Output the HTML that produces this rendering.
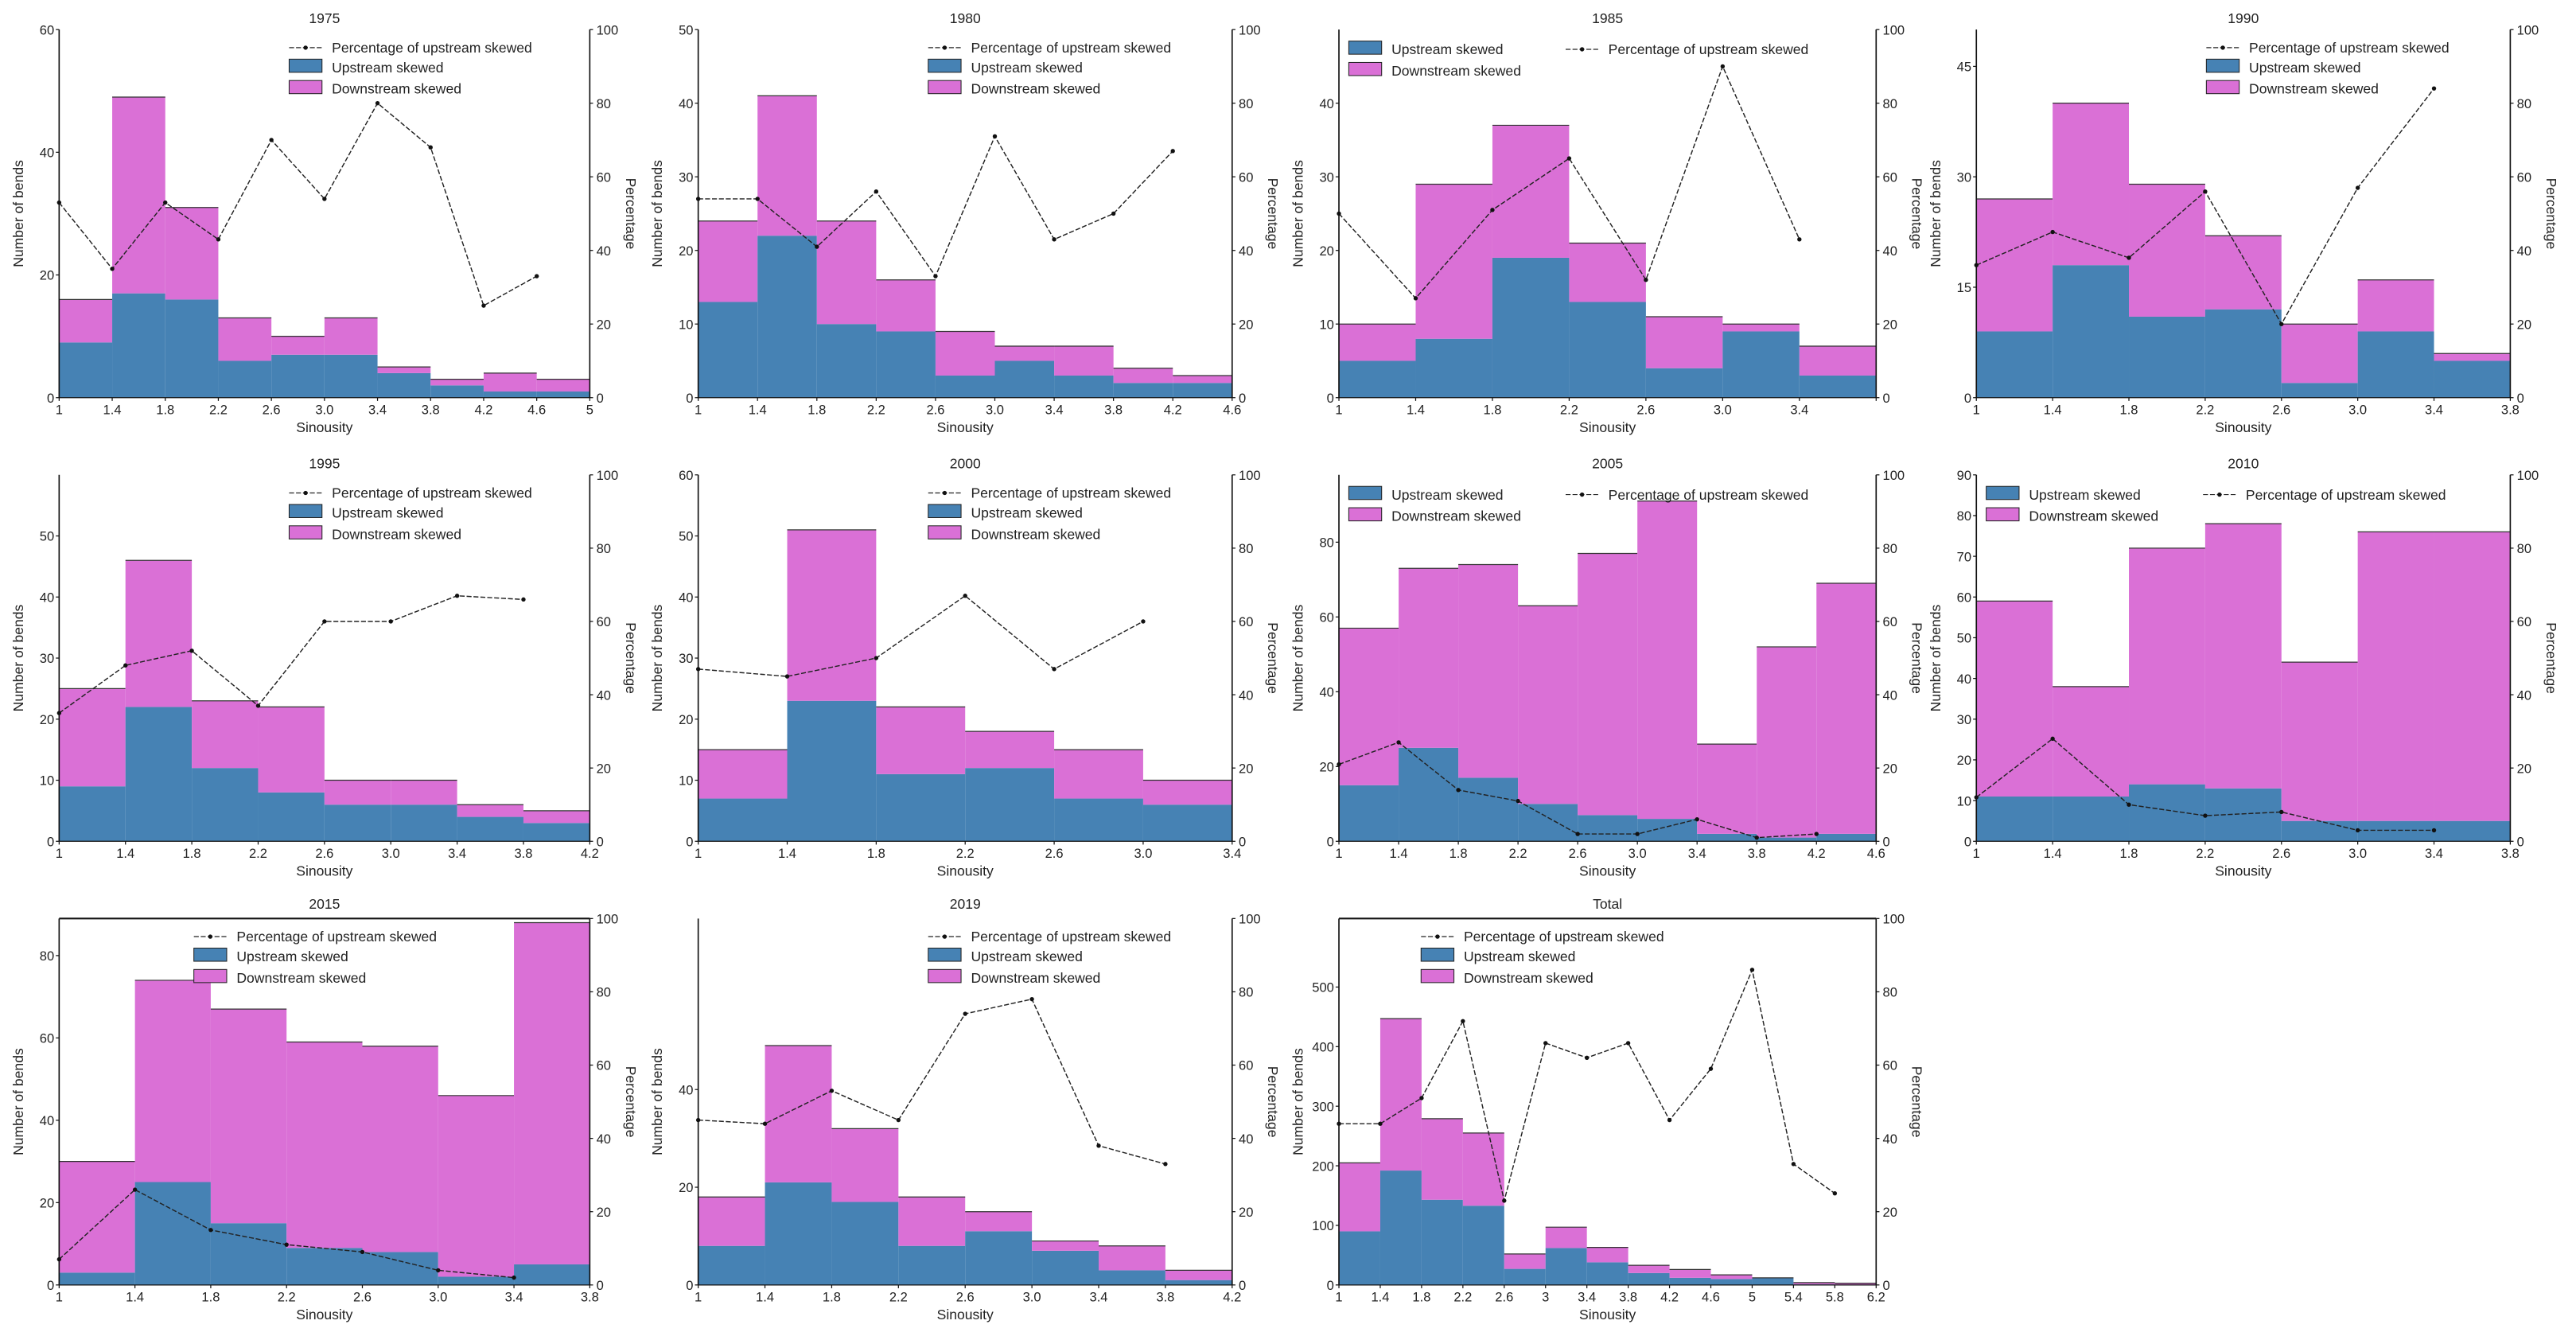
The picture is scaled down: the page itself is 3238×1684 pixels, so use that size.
<!DOCTYPE html>
<html><head><meta charset="utf-8"><style>
html,body{margin:0;padding:0;background:#fff;}
svg{display:block;font-family:"Liberation Sans","DejaVu Sans",sans-serif;}
</style></head><body>
<svg id="fig" width="3238" height="1684" viewBox="0 0 1568 815.5" preserveAspectRatio="none" xmlns="http://www.w3.org/2000/svg"></svg>
<script>
// ---- data (counts per bin, percentage of upstream skewed) ----
const titles = ["1975","1980","1985","1990","1995","2000","2005","2010","2015","2019","Total"];
const up1975=[9,17,16,6,7,7,4,2,1,1];
const tot1975=[16,49,31,13,10,13,5,3,4,3];
const pct1975=[53,35,53,43,70,54,80,68,25,33];
const up1980=[13,22,10,9,3,5,3,2,2];
const tot1980=[24,41,24,16,9,7,7,4,3];
const pct1980=[54,54,41,56,33,71,43,50,67];
const up1985=[5,8,19,13,4,9,3];
const tot1985=[10,29,37,21,11,10,7];
const pct1985=[50,27,51,65,32,90,43];
const up1990=[9,18,11,12,2,9,5];
const tot1990=[27,40,29,22,10,16,6];
const pct1990=[36,45,38,56,20,57,84];
const up1995=[9,22,12,8,6,6,4,3];
const tot1995=[25,46,23,22,10,10,6,5];
const pct1995=[35,48,52,37,60,60,67,66];
const up2000=[7,23,11,12,7,6];
const tot2000=[15,51,22,18,15,10];
const pct2000=[47,45,50,67,47,60];
const up2005=[15,25,17,10,7,6,2,1,2];
const tot2005=[57,73,74,63,77,91,26,52,69];
const pct2005=[21,27,14,11,2,2,6,1,2];
const up2010=[11,11,14,13,5,5,5];
const tot2010=[59,38,72,78,44,76,76];
const pct2010=[12,28,10,7,8,3,3];
const up2015=[3,25,15,9,8,2,5];
const tot2015=[30,74,67,59,58,46,88];
const pct2015=[7,26,15,11,9,4,2];
const up2019=[8,21,17,8,11,7,3,1];
const tot2019=[18,49,32,18,15,9,8,3];
const pct2019=[45,44,53,45,74,78,38,33];
const upTotal=[90,192,143,133,27,62,38,20,12,10,12,1,0];
const totTotal=[205,447,279,255,52,97,63,33,26,17,12,4,3];
const pctTotal=[44,44,51,72,23,66,62,66,45,59,86,33,25];
const yMaxes=[60,50,50,50,60,60,98,90,89,75,615];
const yTicks1=[0,20,40,60], yTicks2=[0,10,20,30,40,50], yTicks3=[0,10,20,30,40], yTicks4=[0,15,30,45];
const yTicks5=[0,10,20,30,40,50], yTicks6=[0,10,20,30,40,50,60], yTicks7=[0,20,40,60,80];
const yTicks8=[0,10,20,30,40,50,60,70,80,90], yTicks9=[0,20,40,60,80], yTicks10=[0,20,40], yTicks11=[0,100,200,300,400,500];
const pctTicks=[0,20,40,60,80,100];
const xTicks1=["1","1.4","1.8","2.2","2.6","3.0","3.4","3.8","4.2","4.6","5"];
const xTicks2=["1","1.4","1.8","2.2","2.6","3.0","3.4","3.8","4.2","4.6"];
const xTicks3=["1","1.4","1.8","2.2","2.6","3.0","3.4",""];
const xTicks4=["1","1.4","1.8","2.2","2.6","3.0","3.4","3.8"];
const xTicks5=["1","1.4","1.8","2.2","2.6","3.0","3.4","3.8","4.2"];
const xTicks6=["1","1.4","1.8","2.2","2.6","3.0","3.4"];
const xTicks11=["1","1.4","1.8","2.2","2.6","3","3.4","3.8","4.2","4.6","5","5.4","5.8","6.2"];

const ups=[up1975,up1980,up1985,up1990,up1995,up2000,up2005,up2010,up2015,up2019,upTotal];
const tots=[tot1975,tot1980,tot1985,tot1990,tot1995,tot2000,tot2005,tot2010,tot2015,tot2019,totTotal];
const pcts=[pct1975,pct1980,pct1985,pct1990,pct1995,pct2000,pct2005,pct2010,pct2015,pct2019,pctTotal];
const yts=[yTicks1,yTicks2,yTicks3,yTicks4,yTicks5,yTicks6,yTicks7,yTicks8,yTicks9,yTicks10,yTicks11];
const xts=[xTicks1,xTicks2,xTicks3,xTicks4,xTicks5,xTicks6,xTicks2,xTicks4,xTicks4,xTicks5,xTicks11];

// layout (display units)
const cols=[[36,359],[425,750],[815,1142],[1203,1528]];
const rows=[[18,242],[289,512],[559,782]];
const legendMode=["r","r","two","r","r","r","two","two","c","r","c2"];
const boxed=[false,false,false,false,false,false,false,false,true,false,true];

const NS="http://www.w3.org/2000/svg";
const svg=document.getElementById('fig');
function mk(tag,attrs,parent){const e=document.createElementNS(NS,tag);for(const k in attrs)e.setAttribute(k,attrs[k]);(parent||svg).appendChild(e);return e;}
function txt(s,attrs,parent){const e=mk('text',attrs,parent);e.textContent=s;return e;}

const UP="#4682b4", DOWN="#da70d6";

for(let p=0;p<11;p++){
  const [L,R]=cols[p%4]; const [T,B]=rows[Math.floor(p/4)];
  const g=mk('g',{});
  
  
  const up=ups[p], tot=tots[p], pct=pcts[p], nb=up.length, ymax=yMaxes[p];
  const xs=i=>L+(R-L)*i/nb;
  const ys=v=>B-(B-T)*v/ymax;
  const yp=v=>B-(B-T)*v/100;
  for(let i=0;i<nb;i++){
    const r1=mk('rect',{x:xs(i),y:ys(up[i]),width:xs(i+1)-xs(i),height:B-ys(up[i]),fill:UP},g);
    
    
    const r2=mk('rect',{x:xs(i),y:ys(tot[i]),width:xs(i+1)-xs(i),height:ys(up[i])-ys(tot[i]),fill:DOWN},g);
    
    
    mk('line',{x1:xs(i),x2:xs(i+1),y1:ys(tot[i]),y2:ys(tot[i]),stroke:'#333','stroke-width':0.6},g);
  }
  // percentage line
  let d='';
  pct.forEach((v,i)=>{d+=(i?'L':'M')+xs(i)+' '+yp(v)+' ';});
  const pl=mk('path',{d:d,fill:'none',stroke:'#222','stroke-width':0.7,'stroke-dasharray':'3,1.2'},g);
  
  
  pct.forEach((v,i)=>{const c=mk('circle',{cx:xs(i),cy:yp(v),r:1.3,fill:'#111'},g);
    
    });
  // spines
  mk('line',{x1:L,x2:L,y1:T,y2:B,stroke:'#111','stroke-width':0.8},g);
  mk('line',{x1:R,x2:R,y1:T,y2:B,stroke:'#111','stroke-width':0.8},g);
  mk('line',{x1:L,x2:R,y1:B,y2:B,stroke:'#111','stroke-width':0.6},g);
  if(boxed[p]) mk('line',{x1:L,x2:R,y1:T,y2:T,stroke:'#111','stroke-width':1},g);
  // y ticks left
  yts[p].forEach(v=>{mk('line',{x1:L-2,x2:L,y1:ys(v),y2:ys(v),stroke:'#111','stroke-width':0.6},g);
    txt(String(v),{x:L-3,y:ys(v)+3,'font-size':8,'text-anchor':'end',fill:'#222'},g);});
  pctTicks.forEach(v=>{mk('line',{x1:R,x2:R+2,y1:yp(v),y2:yp(v),stroke:'#111','stroke-width':0.6},g);
    txt(String(v),{x:R+4,y:yp(v)+3,'font-size':8,'text-anchor':'start',fill:'#222'},g);});
  const xl=xts[p]; const step=0.4;
  xl.forEach((s,i)=>{const x=L+(R-L)*i/nb; if(x>R+0.5)return;
    mk('line',{x1:x,x2:x,y1:B,y2:B+2,stroke:'#111','stroke-width':0.6},g);
    if(s) txt(s,{x:x,y:B+10,'font-size':8,'text-anchor':'middle',fill:'#222'},g);});
  const t=txt(titles[p],{x:(L+R)/2,y:T-6+ (p<4?-2:0)+ (p<4?8:6),'font-size':8.5,'text-anchor':'middle',fill:'#222'},g);
  
  if(p<8) t.setAttribute('y',T+ (p<4?-4:-4)); else t.setAttribute('y',T-6);
  txt('Sinousity',{x:(L+R)/2,y:B+21,'font-size':8.5,'text-anchor':'middle',fill:'#222'},g);
  txt('Number of bends',{x:0,y:0,'font-size':8.5,'text-anchor':'middle',fill:'#222',transform:`translate(${L-22},${(T+B)/2}) rotate(-90)`},g);
  txt('Percentage',{x:0,y:0,'font-size':8.5,'text-anchor':'middle',fill:'#222',transform:`translate(${R+22},${(T+B)/2}) rotate(90)`},g);
  // legend
  const lg=mk('g',{},g);
  
  
  const m=legendMode[p];
  function lineEntry(x,y){mk('line',{x1:x,x2:x+20,y1:y-3,y2:y-3,stroke:'#222','stroke-width':0.6,'stroke-dasharray':'3,1.2'},lg);
    mk('circle',{cx:x+10,cy:y-3,r:1.3,fill:'#111'},lg);
    txt('Percentage of upstream skewed',{x:x+26,y:y,'font-size':8.5,fill:'#222'},lg);}
  function patch(x,y,col,label){mk('rect',{x:x,y:y-8,width:20,height:8,fill:col,stroke:'#222','stroke-width':0.5},lg);
    txt(label,{x:x+26,y:y,'font-size':8.5,fill:'#222'},lg);}
  if(m==='two'){
    patch(L+6,T+15,UP,'Upstream skewed'); patch(L+6,T+28,DOWN,'Downstream skewed'); lineEntry(L+138,T+15);
  } else {
    let x = m==='r'? L+140 : (m==='c'? L+82 : L+50);
    lineEntry(x,T+14); patch(x,T+26,UP,'Upstream skewed'); patch(x,T+39,DOWN,'Downstream skewed');
  }
}
</script>
</body></html>
